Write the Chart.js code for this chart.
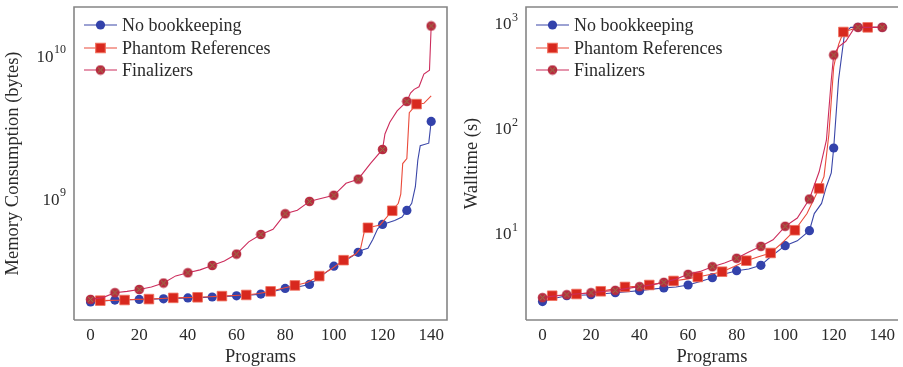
<!DOCTYPE html>
<html>
<head>
<meta charset="utf-8">
<script src="https://cdn.jsdelivr.net/npm/chart.js@4.4.1/dist/chart.umd.min.js"></script>
<style>
html, body { margin: 0; padding: 0; background: #fff; overflow: hidden; }
#memWrap { position: absolute; left: 0; top: 0; width: 452px; height: 367px; }
#timeWrap { position: absolute; left: 452px; top: 0; width: 451px; height: 367px; }
</style>
</head>
<body>
<div id="memWrap"><canvas id="memChart"></canvas></div>
<div id="timeWrap"><canvas id="timeChart"></canvas></div>
<script>
// --- data (programs sorted by value) ---
const seriesNames = ['No bookkeeping', 'Phantom References', 'Finalizers'];
const xTicks = [0, 20, 40, 60, 80, 100, 120, 140];
const memTicks = [1e9, 1e10];
const memTickExp = ['9', '10'];
const timeTicks = [10, 100, 1000];
const timeTickExp = ['1', '2', '3'];

const markEvery10 = [0, 10, 20, 30, 40, 50, 60, 70, 80, 90, 100, 110, 120, 130, 140];
const markPhantom = [4, 14, 24, 34, 44, 54, 64, 74, 84, 94, 104, 114, 124, 134];

// memory consumption (bytes)
const memNoBookX = [0, 5, 10, 15, 20, 25, 30, 35, 40, 45, 50, 55, 60, 65, 70, 75, 80, 85, 90, 95, 100, 105, 110, 112, 114, 116, 118, 120, 125, 128, 130, 132, 133.5, 134.5, 135.5, 139, 140];
const memNoBookY = [1.94e8, 1.97e8, 2.0e8, 2.01e8, 2.02e8, 2.03e8, 2.04e8, 2.05e8, 2.07e8, 2.08e8, 2.1e8, 2.12e8, 2.14e8, 2.16e8, 2.2e8, 2.3e8, 2.41e8, 2.47e8, 2.57e8, 2.95e8, 3.45e8, 3.8e8, 4.31e8, 4.5e8, 4.6e8, 5.3e8, 6.3e8, 6.76e8, 7.2e8, 7.6e8, 8.47e8, 9.5e8, 1.24e9, 1.9e9, 2.4e9, 2.5e9, 3.55e9];

const memPhantomX = [0, 4, 9, 14, 19, 24, 29, 34, 39, 44, 49, 54, 59, 64, 69, 74, 79, 84, 89, 94, 99, 104, 109, 111, 112.5, 114, 119, 124, 126.5, 127.5, 128.3, 130, 131, 134, 137, 140];
const memPhantomY = [1.96e8, 1.98e8, 1.99e8, 2.0e8, 2.02e8, 2.03e8, 2.05e8, 2.07e8, 2.08e8, 2.09e8, 2.11e8, 2.13e8, 2.15e8, 2.17e8, 2.22e8, 2.3e8, 2.42e8, 2.53e8, 2.65e8, 2.94e8, 3.3e8, 3.8e8, 4.2e8, 4.6e8, 6.0e8, 6.4e8, 6.7e8, 8.42e8, 9.5e8, 1.1e9, 1.8e9, 1.95e9, 4.08e9, 4.69e9, 4.75e9, 5.36e9];

const memFinalX = [0, 5, 10, 15, 20, 25, 30, 35, 40, 45, 50, 55, 60, 65, 70, 75, 77, 80, 85, 90, 93, 100, 105, 110, 115, 120, 121, 123, 126, 130, 131.5, 133, 135, 137, 139.3, 140];
const memFinalY = [2.02e8, 2.08e8, 2.25e8, 2.3e8, 2.37e8, 2.47e8, 2.63e8, 2.95e8, 3.1e8, 3.25e8, 3.49e8, 3.75e8, 4.19e8, 5.1e8, 5.75e8, 6.24e8, 6.9e8, 8.02e8, 8.5e8, 9.79e8, 1.01e9, 1.08e9, 1.31e9, 1.4e9, 1.8e9, 2.26e9, 2.9e9, 3.5e9, 4.2e9, 4.9e9, 5.6e9, 5.95e9, 6.2e9, 7.6e9, 8.1e9, 1.65e10];

// walltime (s)
const timeNoBookX = [0, 5, 10, 15, 20, 25, 30, 35, 40, 45, 50, 55, 60, 65, 70, 75, 80, 85, 90, 94, 100, 105, 110, 112, 115, 117, 119, 120, 122, 124.5, 127, 130, 140];
const timeNoBookY = [2.32, 2.5, 2.64, 2.67, 2.7, 2.76, 2.82, 2.88, 2.95, 3.05, 3.13, 3.2, 3.34, 3.6, 3.92, 4.25, 4.57, 4.75, 5.14, 6.2, 7.91, 8.8, 11.0, 16, 20, 29, 39, 67.4, 300, 840, 950, 950, 950];

const timePhantomX = [0, 4, 9, 14, 19, 24, 29, 34, 39, 44, 49, 54, 59, 64, 69, 74, 79, 84, 89, 94, 99, 104, 109, 114, 116, 118, 120, 122, 124, 127, 130, 134, 140];
const timePhantomY = [2.5, 2.64, 2.68, 2.74, 2.8, 2.91, 3.05, 3.2, 3.25, 3.34, 3.5, 3.65, 3.8, 3.98, 4.2, 4.47, 5.0, 5.69, 6.2, 6.74, 8.5, 11.1, 16, 27.8, 36, 90, 400, 650, 858, 900, 950, 950, 950];

const timeFinalX = [0, 5, 10, 15, 20, 25, 30, 35, 40, 45, 50, 55, 60, 65, 70, 75, 80, 85, 90, 95, 100, 105, 110, 114, 117, 119, 120, 122, 125, 128, 130, 140];
const timeFinalY = [2.53, 2.62, 2.7, 2.76, 2.82, 2.9, 2.97, 3.1, 3.22, 3.35, 3.54, 3.8, 4.22, 4.5, 4.99, 5.4, 6.0, 6.9, 7.8, 9.0, 12.1, 14.5, 22.0, 40, 80, 300, 518, 620, 700, 900, 950, 950];

// --- styling ---
const serif = "'Liberation Serif', 'Times New Roman', serif";
const textColor = '#2a2a2a';
const blueLine = '#3a46a8', blueFill = '#3342ab';
const redLine = '#ea4a3a', redFill = '#d8281e', redEdge = '#f0705e';
const crimLine = '#cc2c5c', crimFill = '#b82c40';

function finalizerMark() {
    const c = document.createElement('canvas');
    c.width = 11; c.height = 11;
    const g = c.getContext('2d');
    g.fillStyle = crimFill;
    g.beginPath(); g.arc(5.5, 5.5, 4.8, 0, Math.PI * 2); g.fill();
    g.strokeStyle = '#8f8044'; g.lineWidth = 1;
    g.beginPath();
    g.moveTo(3, 3); g.lineTo(8, 8); g.moveTo(8, 3); g.lineTo(3, 8);
    g.stroke();
    return c;
}
const finalMarkImg = finalizerMark();

const toPoints = (xs, ys) => xs.map((x, i) => ({ x: x, y: ys[i] }));
const markAt = (list, r) => ctx => (ctx.raw && list.includes(ctx.raw.x)) ? r : 0;

function makeDatasets(nbX, nbY, phX, phY, fiX, fiY) {
    return [
        { label: seriesNames[0], data: toPoints(nbX, nbY), borderColor: blueLine, backgroundColor: blueFill, borderWidth: 1.1,
          pointStyle: 'circle', pointRadius: markAt(markEvery10, 4.6), pointBorderWidth: 0, order: 3 },
        { label: seriesNames[1], data: toPoints(phX, phY), borderColor: redLine, backgroundColor: redFill, pointBorderColor: redEdge, borderWidth: 1.1,
          pointStyle: 'rect', pointRadius: markAt(markPhantom, 6.8), pointBorderWidth: 0.8, order: 2 },
        { label: seriesNames[2], data: toPoints(fiX, fiY), borderColor: crimLine, backgroundColor: crimFill, borderWidth: 1.1,
          pointStyle: finalMarkImg, pointRadius: markAt(markEvery10, 5), pointBorderWidth: 0, order: 1 }
    ];
}

// frame, power-of-ten tick labels and the in-plot legend
const frameAndLegend = {
    id: 'frameAndLegend',
    afterDraw(chart, args, opts) {
        const { ctx, chartArea: a } = chart;
        ctx.save();
        ctx.strokeStyle = '#858585';
        ctx.lineWidth = 1.6;
        ctx.beginPath();
        ctx.moveTo(a.left, a.bottom); ctx.lineTo(a.left, a.top); ctx.lineTo(a.right, a.top);
        if (opts.rightEdge) ctx.lineTo(a.right, a.bottom); else ctx.moveTo(a.right, a.bottom);
        ctx.lineTo(a.left, a.bottom);
        ctx.stroke();

        // y tick labels as 10^n
        ctx.fillStyle = textColor;
        ctx.textBaseline = 'middle';
        ctx.textAlign = 'left';
        opts.ticks.forEach((v, i) => {
            const y = chart.scales.y.getPixelForValue(v);
            const exp = opts.exps[i];
            ctx.font = '12px ' + serif;
            const ew = ctx.measureText(exp).width;
            ctx.font = '17px ' + serif;
            const bw = ctx.measureText('10').width;
            const xEnd = a.left - 8;
            ctx.fillText('10', xEnd - ew - bw - 0.5, y);
            ctx.font = '12px ' + serif;
            ctx.fillText(exp, xEnd - ew, y - 7);
        });

        // legend in the upper left corner
        ctx.font = '18px ' + serif;
        ctx.textBaseline = 'middle';
        const rows = [18, 41, 63];
        chart.data.datasets.forEach((ds, i) => {
            const y = a.top + rows[i];
            const x0 = a.left + 10, x1 = a.left + 43;
            ctx.strokeStyle = ds.borderColor;
            ctx.lineWidth = 1.1;
            ctx.beginPath(); ctx.moveTo(x0, y); ctx.lineTo(x1, y); ctx.stroke();
            ctx.fillStyle = ds.backgroundColor;
            ctx.strokeStyle = ds.pointBorderColor || ds.backgroundColor;
            const r = i === 1 ? 6.8 : (i === 2 ? 5 : 4.6);
            Chart.helpers.drawPoint(ctx, { pointStyle: ds.pointStyle, radius: r, rotation: 0, borderWidth: ds.pointBorderWidth }, (x0 + x1) / 2, y);
            ctx.fillStyle = textColor;
            ctx.fillText(ds.label, a.left + 48, y + 1);
        });
        ctx.restore();
    }
};

function makeChart(canvasId, datasets, yMin, yMax, yTicks, yExps, yTitle, titlePad, rightPad, rightEdge) {
    return new Chart(document.getElementById(canvasId).getContext('2d'), {
        type: 'line',
        data: { datasets: datasets },
        options: {
            responsive: true, maintainAspectRatio: false, animation: false,
            layout: { padding: { top: 7, right: rightPad, bottom: 0, left: 0 } },
            events: [],
            elements: { line: { tension: 0 } },
            scales: {
                x: {
                    type: 'linear', min: -6.8, max: 146.5,
                    grid: { display: false, drawTicks: false }, border: { display: false },
                    afterBuildTicks: s => { s.ticks = xTicks.map(v => ({ value: v })); },
                    afterFit: s => { s.height = 47; },
                    ticks: { color: textColor, font: { family: serif, size: 17 }, padding: 5, maxRotation: 0 },
                    title: { display: true, text: 'Programs', color: textColor, font: { family: serif, size: 18.5 }, padding: { top: 0, bottom: -1 } }
                },
                y: {
                    type: 'logarithmic', min: yMin, max: yMax,
                    grid: { display: false, drawTicks: false }, border: { display: false },
                    afterBuildTicks: s => { s.ticks = yTicks.map(v => ({ value: v })); },
                    afterFit: s => { s.width = 74; },
                    ticks: { display: false },
                    title: { display: true, text: yTitle, color: textColor, font: { family: serif, size: 18.5 }, padding: { top: titlePad, bottom: 0 } }
                }
            },
            plugins: { legend: { display: false }, tooltip: { enabled: false },
                       frameAndLegend: { rightEdge: rightEdge, ticks: yTicks, exps: yExps } }
        },
        plugins: [frameAndLegend]
    });
}

makeChart('memChart', makeDatasets(memNoBookX, memNoBookY, memPhantomX, memPhantomY, memFinalX, memFinalY),
    1.45e8, 2.24e10, memTicks, memTickExp, 'Memory Consumption (bytes)', 2, 1, true);
makeChart('timeChart', makeDatasets(timeNoBookX, timeNoBookY, timePhantomX, timePhantomY, timeFinalX, timeFinalY),
    1.55, 1485, timeTicks, timeTickExp, 'Walltime (s)', 9, 0, false);
</script>
</body>
</html>
